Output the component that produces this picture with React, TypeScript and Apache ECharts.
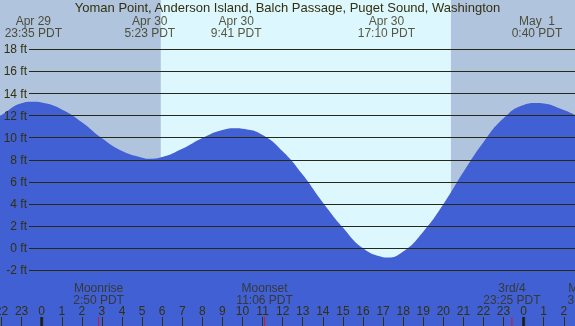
import React, { useEffect, useRef } from "react";
import * as echarts from "echarts";

// ---- data ----
const titleText = "Yoman Point, Anderson Island, Balch Passage, Puget Sound, Washington";

// hours relative to Apr 30 00:00 PDT, tide height in ft (incl. the extremes)
const tideHours = [-2.08, -2, -1, -0.417, 0, 1, 2, 3, 4, 5, 5.383, 6, 7, 8, 9, 9.683, 10, 11, 12, 13, 14, 15, 16, 17, 17.167, 18, 19, 20, 21, 22, 23, 24, 24.667, 25, 26, 26.56];
const tideFeet = [12.0, 12.06, 13.12, 13.25, 13.18, 12.56, 11.4, 9.95, 8.8, 8.2, 8.1, 8.25, 9.0, 9.98, 10.7, 10.86, 10.82, 10.25, 8.77, 6.65, 4.15, 1.88, 0.0, -0.8, -0.84, -0.3, 1.5, 3.98, 6.9, 9.6, 11.76, 12.96, 13.14, 13.1, 12.5, 12.05];

const extremeHours = [-0.417, 5.383, 9.683, 17.167, 24.667];
const extremeDates = ["Apr 29", "Apr 30", "Apr 30", "Apr 30", "May  1"];
const extremeClock = ["23:35 PDT", "5:23 PDT", "9:41 PDT", "17:10 PDT", "0:40 PDT"];

const moonHours = [2.833, 11.1, 23.417, 27.45];
const moonNames = ["Moonrise", "Moonset", "3rd/4", "Moonrise"];
const moonClock = ["2:50 PDT", "11:06 PDT", "23:25 PDT", "3:27 PDT"];

const midnightHours = [0, 24];
const sunriseHour = 5.93;
const sunsetHour = 20.38;

const ftTickMin = -2;
const ftTickMax = 18;
const ftTickStep = 2;
const hourTickMin = -2;
const hourTickMax = 26;

// ---- layout ----
const W = 575;
const H = 326;
const HOUR0_X = 41.7;
const PX_PER_HOUR = 20.08;
const FT0_Y = 248.3;
const PX_PER_FT = 11.056;

const FONT = "'Liberation Sans', Arial, sans-serif";
const TEXT = "#33300f";
const GRID_LINE = "#28281a";
const NIGHT = "#b0c4de";
const DAY = "#ddf7ff";
const WATER = "#4060d4";

export default function App() {
  const ref = useRef<HTMLDivElement>(null);
  useEffect(() => {
    if (!ref.current) return;
    const chart = echarts.init(ref.current, null, { renderer: "svg" });
    const xMin = -HOUR0_X / PX_PER_HOUR;
    const xMax = (W - HOUR0_X) / PX_PER_HOUR;
    const yMax = FT0_Y / PX_PER_FT;
    const yMin = -(H - FT0_Y) / PX_PER_FT;

    const g1Top = FT0_Y - ftTickMax * PX_PER_FT;
    const g1Bottom = H - (FT0_Y - ftTickMin * PX_PER_FT);
    const g2Left = HOUR0_X + hourTickMin * PX_PER_HOUR;
    const g2Right = W - (HOUR0_X + hourTickMax * PX_PER_HOUR);

    chart.setOption({
      animation: false,
      title: {
        text: titleText,
        left: "center",
        top: 1,
        padding: 0,
        textStyle: { fontFamily: FONT, fontSize: 13, fontWeight: "normal", color: TEXT },
      },
      grid: [
        { left: 0, right: 0, top: 0, bottom: 0, show: true, backgroundColor: DAY, borderWidth: 0, outerBoundsMode: "none", containLabel: false },
        { left: 29, right: 0, top: g1Top, bottom: g1Bottom, outerBoundsMode: "none", containLabel: false },
        { left: g2Left, right: g2Right, top: 0, bottom: 0, outerBoundsMode: "none", containLabel: false },
      ],
      xAxis: [
        { gridIndex: 0, type: "value", min: xMin, max: xMax, show: false },
        { gridIndex: 1, type: "value", min: 0, max: 1, show: false },
        {
          gridIndex: 2,
          type: "value",
          min: hourTickMin,
          max: hourTickMax,
          interval: 1,
          z: 10,
          axisLine: { show: false },
          splitLine: { show: false },
          axisTick: { show: true, inside: true, length: 9, lineStyle: { color: TEXT, width: 1 } },
          axisLabel: {
            inside: true,
            margin: 9,
            interval: 0,
            showMinLabel: true,
            showMaxLabel: true,
            hideOverlap: false,
            fontFamily: FONT,
            fontSize: 12,
            color: TEXT,
            formatter: (v: number) => String((((Math.round(v) % 24) + 24) % 24)),
          },
        },
      ],
      yAxis: [
        { gridIndex: 0, type: "value", min: yMin, max: yMax, show: false },
        {
          gridIndex: 1,
          type: "value",
          min: ftTickMin,
          max: ftTickMax,
          interval: ftTickStep,
          z: 10,
          axisLine: { show: false },
          axisTick: { show: false },
          splitLine: { show: true, lineStyle: { color: GRID_LINE, width: 1 } },
          axisLabel: {
            margin: 2,
            fontFamily: FONT,
            fontSize: 12,
            color: TEXT,
            formatter: (v: number) => `${v} ft`,
          },
        },
        { gridIndex: 2, type: "value", min: 0, max: 1, show: false },
      ],
      series: [
        {
          type: "line",
          xAxisIndex: 0,
          yAxisIndex: 0,
          z: 1,
          data: [],
          silent: true,
          markArea: {
            silent: true,
            itemStyle: { color: NIGHT, opacity: 1 },
            data: [
              [{ xAxis: xMin }, { xAxis: sunriseHour }],
              [{ xAxis: sunsetHour }, { xAxis: xMax }],
            ],
          },
        },
        {
          type: "line",
          xAxisIndex: 0,
          yAxisIndex: 0,
          z: 3,
          smooth: 0.5,
          symbol: "none",
          lineStyle: { width: 0, color: WATER },
          areaStyle: { color: WATER, opacity: 1, origin: "start" },
          data: tideHours.map((h, i) => [h, tideFeet[i]]),
        },
        {
          type: "scatter",
          xAxisIndex: 0,
          yAxisIndex: 0,
          z: 12,
          clip: false,
          symbolSize: 0,
          data: extremeHours.map((h, i) => ({ value: [h, yMax], name: `${extremeDates[i]}\n${extremeClock[i]}` })),
          label: {
            show: true,
            position: "bottom",
            distance: 15,
            formatter: (p: any) => p.name,
            fontFamily: FONT,
            fontSize: 12,
            lineHeight: 12,
            color: TEXT,
            align: "center",
          },
        },
        {
          type: "scatter",
          xAxisIndex: 2,
          yAxisIndex: 2,
          z: 12,
          clip: false,
          symbolSize: 0,
          data: moonHours.map((h, i) => ({ value: [h, 0], name: `${moonNames[i]}\n${moonClock[i]}` })),
          label: {
            show: true,
            position: "top",
            distance: 20.5,
            formatter: (p: any) => p.name,
            fontFamily: FONT,
            fontSize: 12,
            lineHeight: 12,
            color: TEXT,
            align: "center",
          },
        },
        {
          type: "scatter",
          xAxisIndex: 2,
          yAxisIndex: 2,
          z: 13,
          clip: false,
          symbol: "rect",
          symbolSize: [1, 9],
          symbolOffset: [0, -4.5],
          itemStyle: { color: "#ff0000" },
          data: moonHours.map((h) => [h, 0]),
        },
        {
          type: "scatter",
          xAxisIndex: 2,
          yAxisIndex: 2,
          z: 13,
          clip: false,
          symbol: "rect",
          symbolSize: [3, 9],
          symbolOffset: [0, -4.5],
          itemStyle: { color: "#1a1a08" },
          data: midnightHours.map((h) => [h, 0]),
        },
      ],
    });
    return () => chart.dispose();
  }, []);
  return (
    <div
      ref={ref}
      style={{ position: "fixed", left: 0, top: 0, width: W, height: H }}
    />
  );
}
